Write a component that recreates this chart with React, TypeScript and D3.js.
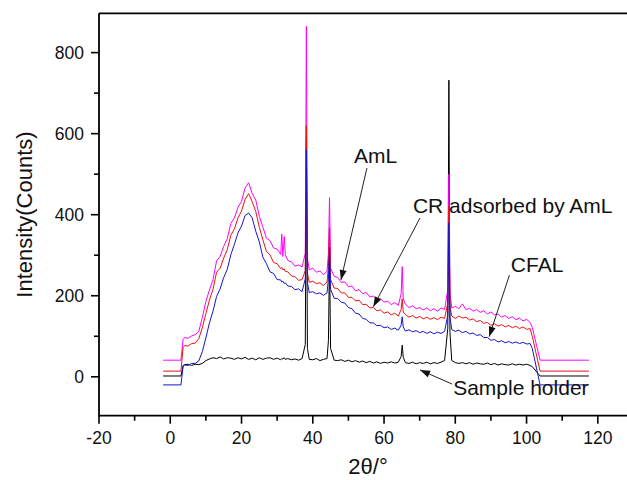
import React from 'react';
import * as d3 from 'd3';

// 2θ positions (degrees), shared by all series
const twoTheta = [
  -2, 3.0, 3.6, 4, 5, 6, 7, 8,
  9, 10, 11, 12, 13, 14, 15, 16, 17, 18,
  19, 20, 21, 22, 23, 24, 25, 26, 27, 28,
  29, 30, 31, 31.3, 31.6, 32, 32.3, 33, 34, 35,
  36, 37, 37.9, 38.2, 38.5, 39, 40, 41, 42, 43,
  44, 44.4, 44.7, 45.0, 46, 47, 48, 49, 50, 51,
  52, 53, 54, 55, 56, 57, 58, 59, 60, 61,
  62, 63, 64, 64.8, 65.1, 65.4, 66, 67, 68, 69,
  70, 71, 72, 73, 74, 75, 76, 77, 77.9, 78.2,
  78.5, 79, 80, 81, 82, 83, 84, 85, 86, 87,
  88, 89, 90, 91, 92, 93, 94, 95, 96, 97,
  98, 99, 100, 101, 101.6, 103.8, 117.5,
];

const amL = [
  41, 41, 92, 97, 95, 101, 104, 112,
  146, 186, 214, 240, 286, 297, 322, 341, 378, 392,
  418, 433, 466, 479, 452, 436, 396, 369, 342, 336,
  318, 315, 302, 352, 297, 346, 301, 287, 284, 273,
  276, 271, 305, 865, 292, 264, 268, 258, 261, 252,
  260, 305, 442, 268, 248, 245, 233, 234, 222, 224,
  212, 215, 205, 208, 197, 199, 191, 193, 184, 187,
  178, 183, 176, 205, 272, 192, 179, 171, 175, 168,
  171, 165, 170, 163, 168, 162, 170, 166, 215, 500,
  208, 170, 174, 168, 180, 166, 169, 162, 166, 159,
  163, 155, 160, 153, 155, 147, 151, 144, 148, 141,
  145, 138, 142, 134, 122, 41, 41,
];

const crAdsorbed = [
  14, 14, 72, 77, 76, 82, 83, 94,
  121, 156, 189, 216, 258, 268, 293, 314, 349, 365,
  392, 409, 438, 452, 432, 408, 369, 338, 309, 301,
  282, 279, 267, 270, 264, 266, 260, 259, 249, 247,
  238, 240, 262, 620, 256, 233, 236, 230, 232, 225,
  234, 272, 368, 240, 219, 218, 207, 207, 196, 196,
  187, 189, 178, 179, 170, 171, 163, 165, 157, 160,
  153, 157, 150, 166, 192, 160, 154, 147, 151, 145,
  149, 143, 147, 142, 146, 141, 147, 144, 182, 420,
  176, 150, 144, 150, 145, 147, 140, 143, 136, 139,
  132, 134, 127, 131, 125, 129, 123, 127, 121, 125,
  119, 123, 117, 119, 100, 14, 14,
];

const cfal = [
  -20, -20, 25, 29, 28, 33, 33, 39,
  62, 96, 133, 162, 198, 217, 245, 265, 301, 327,
  355, 372, 398, 404, 392, 359, 333, 295, 279, 259,
  255, 240, 239, 234, 236, 230, 232, 224, 223, 215,
  217, 210, 242, 560, 232, 208, 210, 205, 207, 201,
  207, 242, 320, 216, 194, 193, 184, 182, 171, 168,
  157, 155, 144, 142, 133, 133, 126, 127, 121, 123,
  117, 120, 115, 127, 148, 123, 113, 116, 111, 114,
  109, 112, 107, 111, 106, 110, 107, 112, 152, 380,
  147, 117, 112, 115, 109, 112, 106, 108, 102, 104,
  97, 97, 90, 92, 86, 89, 84, 87, 83, 86,
  82, 85, 81, 82, 70, -20, -20,
];

const sampleHolder = [
  2, 2, 28, 30, 31, 28, 31, 30,
  33, 40, 44, 47, 45, 49, 44, 47, 46, 43,
  47, 44, 48, 43, 46, 42, 47, 43, 46, 47,
  43, 46, 42, 45, 44, 47, 43, 45, 42, 44,
  41, 45, 80, 590, 70, 43, 42, 45, 40, 43,
  45, 90, 300, 70, 41, 40, 42, 38, 41, 37,
  40, 36, 39, 35, 38, 34, 37, 33, 36, 34,
  37, 34, 36, 50, 78, 48, 35, 33, 36, 32,
  35, 33, 36, 32, 35, 33, 36, 40, 120, 732,
  110, 40, 35, 33, 35, 32, 35, 31, 34, 32,
  31, 34, 30, 33, 29, 32, 30, 29, 32, 29,
  31, 29, 31, 28, 25, 2, 2,
];

const xTicks = [-20, 0, 20, 40, 60, 80, 100, 120];
const xMinorTicks = [-10, 10, 30, 50, 70, 90, 110, 130];
const yTicks = [0, 200, 400, 600, 800];
const yMinorTicks = [100, 300, 500, 700];

const seriesNames = ['Sample holder', 'AmL', 'CR adsorbed by AmL', 'CFAL'];
const seriesValues = [sampleHolder, amL, crAdsorbed, cfal];
const seriesColors = ['#000000', '#ff00ff', '#ee1111', '#1515cc'];

// annotation labels with arrows (data coordinates)
const annLabels = ['AmL', 'CR adsorbed by AmL', 'CFAL', 'Sample holder'];
const annText = [[51.6, 527], [68.1, 404], [95.6, 259], [79.4, -45]];
const annFrom = [[55.2, 515], [70.1, 392], [95.2, 251], [79.1, -18]];
const annTo = [[47.9, 239], [57.0, 173], [89.5, 99], [70.1, 17]];

const W = 627;
const H = 480;
const FONT = '"Liberation Sans", Arial, sans-serif';

export default function App() {
  const x = d3.scaleLinear().domain([-20, 131]).range([99, 637]);
  const y = d3.scaleLinear().domain([-96, 897]).range([415.7, 13.3]);
  const [x0, x1] = x.range();
  const [y0, y1] = y.range();

  const line = d3
    .line<number>()
    .x((_, i) => x(twoTheta[i]))
    .y((d) => y(d));

  const arrowHead = (fx: number, fy: number, tx: number, ty: number) => {
    const ang = Math.atan2(ty - fy, tx - fx);
    const L = 10;
    const w = 3.5;
    const bx = tx - L * Math.cos(ang);
    const by = ty - L * Math.sin(ang);
    const px = -Math.sin(ang) * w;
    const py = Math.cos(ang) * w;
    return `${tx},${ty} ${bx + px},${by + py} ${bx - px},${by - py}`;
  };

  return (
    <div style={{ position: 'absolute', left: 0, top: 0 }}>
      <svg width={W} height={H} style={{ display: 'block', background: '#fff' }}>
        <defs>
          <clipPath id="plot">
            <rect x={x0} y={y1} width={x1 - x0} height={y0 - y1} />
          </clipPath>
        </defs>
        <g clipPath="url(#plot)">
          {seriesValues.map((vals, k) => (
            <path
              key={seriesNames[k]}
              d={line(vals) || ''}
              fill="none"
              stroke={seriesColors[k]}
              strokeWidth={1}
              strokeLinejoin="round"
            />
          ))}
        </g>

        {/* frame */}
        <line x1={x0} x2={x1} y1={y0} y2={y0} stroke="#000" strokeWidth={1.8} />
        <line x1={x0} x2={x1} y1={y1} y2={y1} stroke="#000" strokeWidth={1.8} />
        <line x1={x0} x2={x0} y1={y1} y2={y0 + 1} stroke="#000" strokeWidth={1.8} />

        {/* x ticks */}
        {xTicks.map((t) => (
          <g key={'xt' + t}>
            <line x1={x(t)} x2={x(t)} y1={y0} y2={y0 + 8} stroke="#000" strokeWidth={1.6} />
            <text x={x(t)} y={y0 + 28.5} fontSize={17.5} fontFamily={FONT} textAnchor="middle" fill="#111">
              {t}
            </text>
          </g>
        ))}
        {xMinorTicks.map((t) => (
          <line key={'xm' + t} x1={x(t)} x2={x(t)} y1={y0} y2={y0 + 5} stroke="#000" strokeWidth={1.6} />
        ))}

        {/* y ticks */}
        {yTicks.map((t) => (
          <g key={'yt' + t}>
            <line x1={x0 - 8} x2={x0} y1={y(t)} y2={y(t)} stroke="#000" strokeWidth={1.6} />
            <text x={x0 - 15} y={y(t) + 6.2} fontSize={17.5} fontFamily={FONT} textAnchor="end" fill="#111">
              {t}
            </text>
          </g>
        ))}
        {yMinorTicks.map((t) => (
          <line key={'ym' + t} x1={x0 - 5} x2={x0} y1={y(t)} y2={y(t)} stroke="#000" strokeWidth={1.6} />
        ))}

        {/* axis titles */}
        <text
          transform={`translate(32, ${(y0 + y1) / 2}) rotate(-90)`}
          fontSize={22}
          fontFamily={FONT}
          textAnchor="middle"
          fill="#111"
        >
          Intensity(Counts)
        </text>
        <text x={(x0 + x1) / 2} y={474} fontSize={22} fontFamily={FONT} textAnchor="middle" fill="#111">
          2θ/°
        </text>

        {/* annotations */}
        {annLabels.map((lab, i) => {
          const fx = x(annFrom[i][0]);
          const fy = y(annFrom[i][1]);
          const tx = x(annTo[i][0]);
          const ty = y(annTo[i][1]);
          return (
            <g key={lab}>
              <line x1={fx} y1={fy} x2={tx} y2={ty} stroke="#222" strokeWidth={1} />
              <polygon points={arrowHead(fx, fy, tx, ty)} fill="#111" />
              <text x={x(annText[i][0])} y={y(annText[i][1])} fontSize={21} fontFamily={FONT} fill="#111">
                {lab}
              </text>
            </g>
          );
        })}
      </svg>
    </div>
  );
}
